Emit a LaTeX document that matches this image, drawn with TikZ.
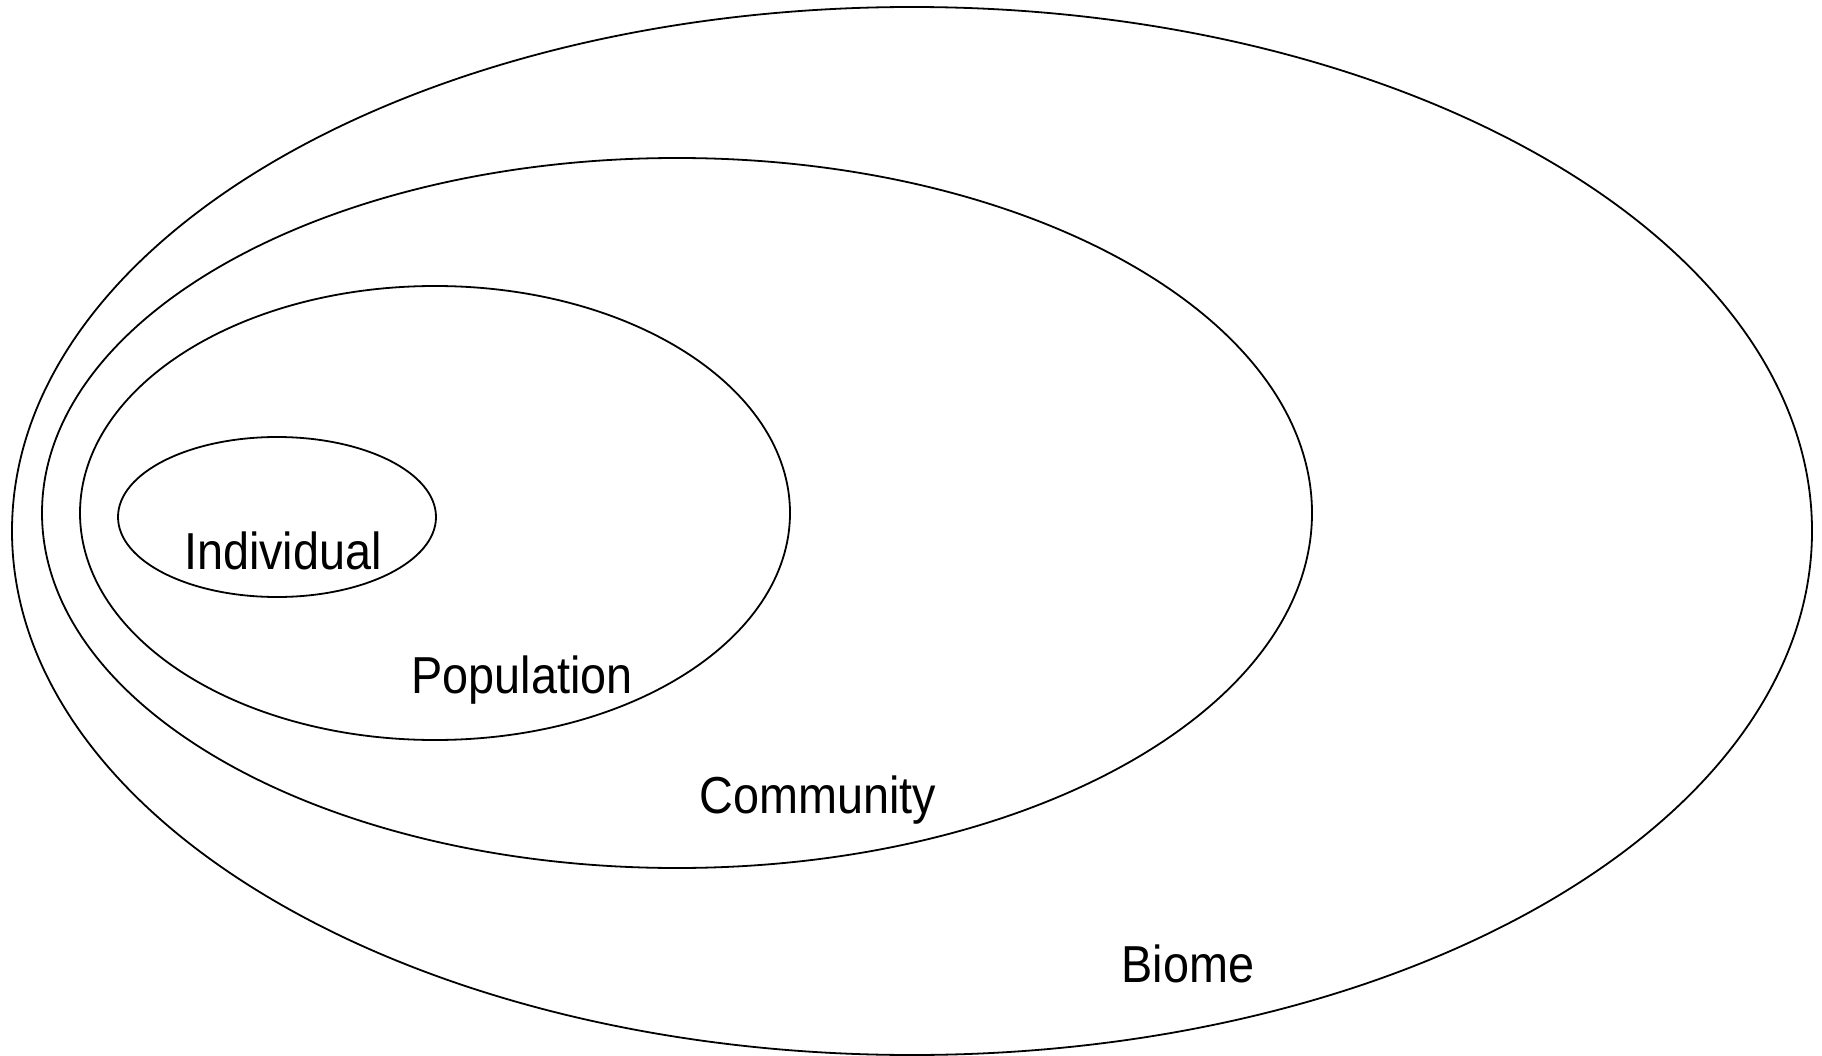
\documentclass[tikz,border=0pt]{standalone}
\usepackage{fontspec}
\setmainfont[FakeStretch=0.9]{Liberation Sans}
\begin{document}
\begin{tikzpicture}[x=1pt,y=-1pt,
  ring/.style={draw=black,line width=1.8pt},
  lbl/.style={anchor=base,inner sep=0pt,font=\fontsize{52}{60}\selectfont}]
  \useasboundingbox (0,0) rectangle (1822,1056);
  % nested levels of organisation
  \draw[ring] (912,531) ellipse [x radius=900,y radius=524];
  \draw[ring] (677,513) ellipse [x radius=635,y radius=355];
  \draw[ring] (435,513) ellipse [x radius=355,y radius=227];
  \draw[ring] (277,517) ellipse [x radius=159,y radius=80];
  % labels
  \node[lbl] (individual) at (283,569) {Individual};
  \node[lbl] (population) at (522,693) {Population};
  \node[lbl] (community) at (818,813) {Community};
  \node[lbl] (biome) at (1188,982) {Biome};
\end{tikzpicture}
\end{document}
